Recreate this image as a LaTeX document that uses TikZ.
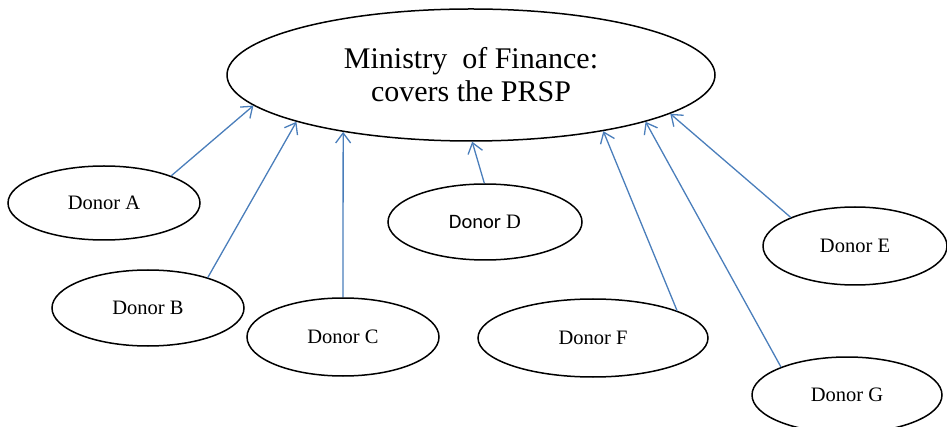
\documentclass[tikz,border=0pt]{standalone}
\usepackage{fontspec}
\setmainfont{Liberation Serif}
\newfontfamily\donorsans{Carlito}
\usetikzlibrary{shapes.geometric,arrows.meta}
\definecolor{arrowblue}{HTML}{4A7EBB}
\tikzset{
    donor/.style = {ellipse, draw, line width=1.5pt, inner sep=0pt,
        font=\fontsize{20.5}{24}\selectfont},
    link/.style = {draw=arrowblue, line width=1.3pt,
        -{Straight Barb[length=10pt,width=15pt]}}
}
\begin{document}
\begin{tikzpicture}[x=1pt, y=-1pt]
        \useasboundingbox (0,0) rectangle (947,427);
        \node [ellipse, draw, line width=1.5pt, inner sep=0pt, align=center,
            minimum width=488pt, minimum height=132pt,
            font=\fontsize{30}{33}\selectfont] (mof) at (471,75)
            {Ministry\ \ of Finance:\\covers the PRSP};
        \node [donor, minimum width=192pt, minimum height=74pt] (dA) at (104,203) {Donor A};
        \node [donor, minimum width=192pt, minimum height=76pt] (dB) at (148,308) {Donor B};
        \node [donor, minimum width=192pt, minimum height=78pt] (dC) at (343,337) {Donor C};
        \node [donor, minimum width=194pt, minimum height=76pt] (dD) at (485,222) {{\donorsans Donor} D};
        \node [donor, minimum width=184pt, minimum height=78pt] (dE) at (855,246) {Donor E};
        \node [donor, minimum width=230pt, minimum height=78pt] (dF) at (593,338) {Donor F};
        \node [donor, minimum width=190pt, minimum height=76pt] (dG) at (847,395) {Donor G};
        \draw [link] (dA.22) -- (mof.188);
        \draw [link] (dB.27) -- (mof.195);
        \draw [link] (dC.90) -- (mof.204);
        \draw [link] (dD.91) -- (mof.271);
        \draw [link] (dF.18) -- (mof.337);
        \draw [link] (dG.157) -- (mof.345);
        \draw [link] (dE.156) -- (mof.349);
    \end{tikzpicture}
\end{document}
